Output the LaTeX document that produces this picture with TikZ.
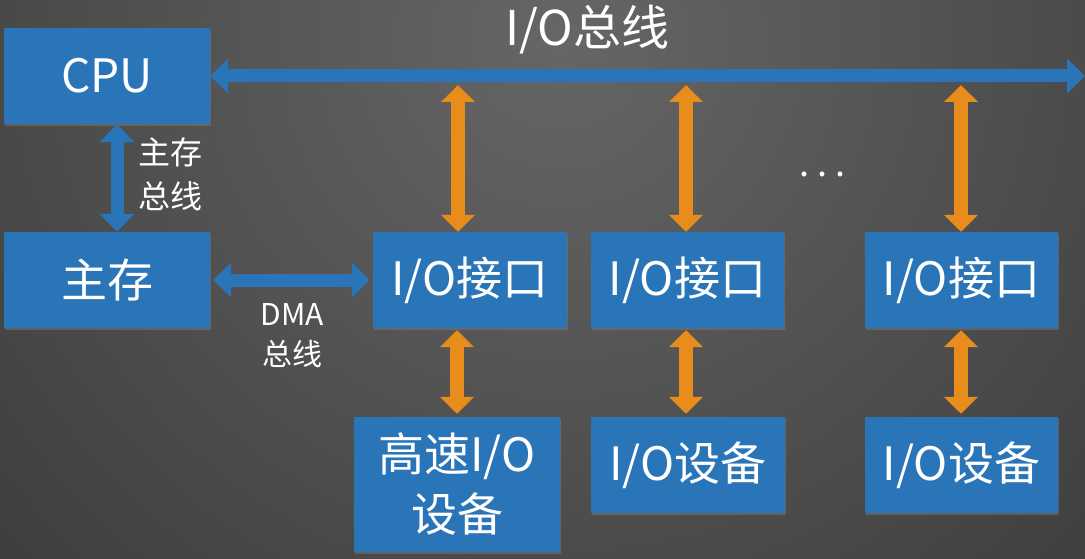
\documentclass[tikz,border=0pt]{standalone}
\usepackage{fontspec}
\setmainfont{Noto Sans CJK SC}
\usetikzlibrary{arrows.meta,shadows}
\definecolor{boxblue}{RGB}{42,116,184}
\definecolor{arrorange}{RGB}{232,140,28}
\definecolor{bgin}{RGB}{102,102,102}
\definecolor{bgout}{RGB}{34,34,34}
\begin{document}
\begin{tikzpicture}[x=1pt,y=-1pt,
  box/.style={fill=boxblue,text=white,inner sep=0pt,align=center,
    font=\fontsize{46}{60}\selectfont,
    drop shadow={opacity=0.45,shadow xshift=1pt,shadow yshift=-2pt}},
  lbl/.style={text=white,inner sep=0pt,align=center,font=\fontsize{32}{44}\selectfont},
  bluearr/.style={draw=boxblue,line width=13pt,
    {Triangle[width=34pt,length=18pt]}-{Triangle[width=34pt,length=18pt]}},
  orarr/.style={draw=arrorange,line width=14pt,
    {Triangle[width=33pt,length=17pt]}-{Triangle[width=33pt,length=17pt]}}]
\useasboundingbox (0,0) rectangle (1085,559);
\begin{scope}
  \clip (0,0) rectangle (1085,559);
  \fill[bgout] (0,0) rectangle (1085,559);
  \shade[inner color=bgin,outer color=bgout] (560,40) circle (1300);
\end{scope}

\node[box,minimum width=206,minimum height=96] (cpu) at (107,76) {CPU};
\node[box,minimum width=206,minimum height=96] (mem) at (107,280) {主存};
\node[box,minimum width=194,minimum height=96] (if1) at (470,280) {I/O接口};
\node[box,minimum width=193,minimum height=96] (if2) at (687.5,280) {I/O接口};
\node[box,minimum width=193,minimum height=96] (if3) at (961.5,280) {I/O接口};
\node[box,minimum width=206,minimum height=135] (dev1) at (457,484.5) {高速I/O\\设备};
\node[box,minimum width=194,minimum height=96] (dev2) at (688,465) {I/O设备};
\node[box,minimum width=193,minimum height=96] (dev3) at (961.5,465) {I/O设备};

\node[lbl,font=\fontsize{48}{50}\selectfont] (title) at (587,30) {I/O总线};
\node[lbl] (memlbl) at (170,174) {主存\\总线};
\node[lbl,font=\fontsize{30}{40}\selectfont] (dmalbl) at (292,336) {DMA\\总线};
\node[lbl,font=\fontsize{36}{40}\selectfont] (dots) at (823,174) {.\hspace{8pt}.\hspace{8pt}.};

\coordinate (busend) at (1085,76);
\coordinate (t1) at (458,85);
\coordinate (t2) at (686,85);
\coordinate (t3) at (961,85);

\draw[bluearr] (cpu.east) -- (busend);
\draw[bluearr] ([xshift=10pt]cpu.south) -- ([xshift=10pt]mem.north);
\draw[bluearr] ([xshift=3pt]mem.east) -- ([xshift=-3pt]if1.west);

\draw[orarr] (t1) -- (t1 |- if1.north);
\draw[orarr] (t2) -- (t2 |- if2.north);
\draw[orarr] (t3) -- (t3 |- if3.north);
\draw[orarr] ([yshift=-2pt]if1.south -| dev1.north) -- ([yshift=3pt]dev1.north);
\draw[orarr] ([yshift=-2pt]if2.south -| t2) -- ([yshift=3pt]dev2.north -| t2);
\draw[orarr] ([yshift=-2pt]if3.south -| t3) -- ([yshift=3pt]dev3.north -| t3);
\end{tikzpicture}
\end{document}
